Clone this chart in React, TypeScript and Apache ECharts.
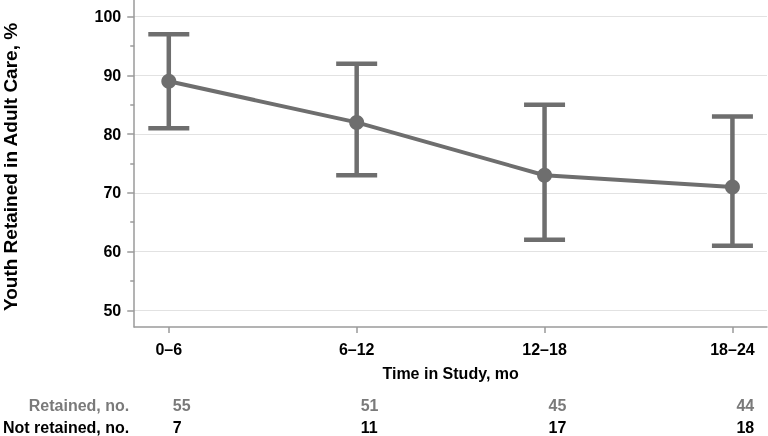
import React, { useEffect, useRef } from "react";
import * as echarts from "echarts";

const categories = ["0–6", "6–12", "12–18", "18–24"];
const retainedPct = [89, 82, 73, 71];
const ciLower = [81, 73, 62, 61];
const ciUpper = [97, 92, 85, 83];
const retainedCounts = [55, 51, 45, 44];
const notRetainedCounts = [7, 11, 17, 18];
const yMajorTicks = [50, 60, 70, 80, 90, 100];
const yMinorTicks = [55, 65, 75, 85, 95];

export default function App() {
  const ref = useRef<HTMLDivElement>(null);
  useEffect(() => {
    const chart = echarts.init(ref.current!, null, { renderer: "svg" });
    const font = "'Liberation Sans', Arial, Helvetica, sans-serif";
    const grey = "#6e6e6e";
    const axisGrey = "#9a9a9a";
    const xIdx = categories.map((_, i) => i);
    const xMin = -0.184;
    const xMax = 3.184;
    const yMin = 47.15;
    const yMax = 102.85;
    const boldText = { fontFamily: font, fontWeight: "bold" as const, fontSize: 16 };

    chart.setOption({
      animation: false,
      grid: { left: 133, right: 1, top: 0, bottom: 109 },
      xAxis: [
        {
          type: "value",
          min: xMin,
          max: xMax,
          position: "bottom",
          axisLine: { show: true, onZero: false, lineStyle: { color: axisGrey, width: 1.5 } },
          axisTick: { show: true, customValues: xIdx, length: 6, lineStyle: { color: axisGrey, width: 1.5 } },
          axisLabel: {
            customValues: xIdx,
            formatter: (v: number) => categories[Math.round(v)] ?? "",
            ...boldText,
            color: "#000",
            margin: 14,
          },
          splitLine: { show: false },
          name: "Time in Study, mo",
          nameLocation: "middle",
          nameGap: 38,
          nameTextStyle: { ...boldText, color: "#000" },
        },
        {
          type: "value",
          min: xMin,
          max: xMax,
          position: "bottom",
          offset: 78,
          axisLine: { show: false, onZero: false },
          axisTick: { show: false },
          axisLabel: {
            customValues: xIdx,
            formatter: (v: number) => String(retainedCounts[Math.round(v)] ?? ""),
            ...boldText,
            color: "#7a7a7a",
            align: "left",
            verticalAlign: "middle",
            padding: [0, 0, 0, 4],
            margin: 0,
          },
          splitLine: { show: false },
          name: "Retained, no.",
          nameLocation: "start",
          nameGap: 5,
          nameTextStyle: { ...boldText, color: "#7a7a7a" },
        },
        {
          type: "value",
          min: xMin,
          max: xMax,
          position: "bottom",
          offset: 100,
          axisLine: { show: false, onZero: false },
          axisTick: { show: false },
          axisLabel: {
            customValues: xIdx,
            formatter: (v: number) => String(notRetainedCounts[Math.round(v)] ?? ""),
            ...boldText,
            color: "#000",
            align: "left",
            verticalAlign: "middle",
            padding: [0, 0, 0, 4],
            margin: 0,
          },
          splitLine: { show: false },
          name: "Not retained, no.",
          nameLocation: "start",
          nameGap: 5,
          nameTextStyle: { ...boldText, color: "#000" },
        },
      ],
      yAxis: [
        {
          type: "value",
          min: yMin,
          max: yMax,
          position: "left",
          axisLine: { show: true, onZero: false, lineStyle: { color: axisGrey, width: 1.5 } },
          axisTick: { show: true, customValues: yMajorTicks, length: 7, lineStyle: { color: axisGrey, width: 1.5 } },
          axisLabel: { customValues: yMajorTicks, ...boldText, color: "#000", margin: 13 },
          splitLine: { show: true, lineStyle: { color: "#e2e2e2", width: 1 } },
        },
        {
          type: "value",
          min: yMin,
          max: yMax,
          position: "left",
          axisLine: { show: false, onZero: false },
          axisTick: { show: true, customValues: yMinorTicks, length: 4, lineStyle: { color: axisGrey, width: 1.5 } },
          axisLabel: { show: false },
          splitLine: { show: false },
        },
      ],
      graphic: [
        {
          type: "text",
          x: 10,
          y: 167,
          rotation: Math.PI / 2,
          style: {
            text: "Youth Retained in Adult Care, %",
            fontFamily: font,
            fontWeight: "bold",
            fontSize: 19,
            fill: "#000",
            align: "center",
            verticalAlign: "middle",
          },
        },
      ],
      series: [
        {
          type: "custom",
          xAxisIndex: 0,
          yAxisIndex: 0,
          z: 2,
          data: xIdx.map((i) => [i, ciLower[i], ciUpper[i]]),
          renderItem: (_params: any, api: any) => {
            const x = api.value(0);
            const lo = api.coord([x, api.value(1)]);
            const hi = api.coord([x, api.value(2)]);
            const hw = 20.5;
            const style = { stroke: grey, lineWidth: 4.5 };
            return {
              type: "group",
              children: [
                { type: "line", shape: { x1: lo[0], y1: lo[1], x2: hi[0], y2: hi[1] }, style },
                { type: "line", shape: { x1: lo[0] - hw, y1: lo[1], x2: lo[0] + hw, y2: lo[1] }, style },
                { type: "line", shape: { x1: hi[0] - hw, y1: hi[1], x2: hi[0] + hw, y2: hi[1] }, style },
              ],
            };
          },
        },
        {
          type: "line",
          xAxisIndex: 0,
          yAxisIndex: 0,
          z: 3,
          data: xIdx.map((i) => [i, retainedPct[i]]),
          symbol: "circle",
          symbolSize: 15,
          lineStyle: { color: grey, width: 4 },
          itemStyle: { color: grey },
        },
      ],
    });
    return () => chart.dispose();
  }, []);
  return <div ref={ref} style={{ position: "fixed", left: 0, top: 0, width: 768, height: 436 }} />;
}
